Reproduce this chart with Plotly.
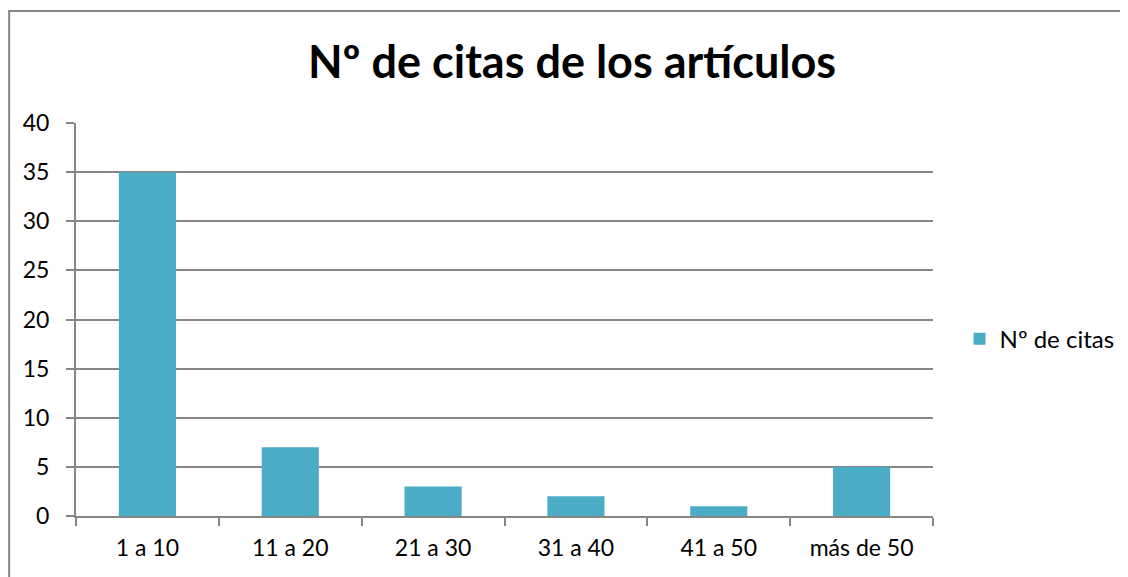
import plotly.graph_objects as go

categorias = ['1 a 10', '11 a 20', '21 a 30', '31 a 40', '41 a 50', 'más de 50']
num_citas = [35, 7, 3, 2, 1, 5]

BAR_COL = '#4BACC6'
GRID_COL = '#868686'
FONT = 'Lato'

fig = go.Figure()
fig.add_trace(go.Bar(x=categorias, y=num_citas, name='Nº de citas',
                     marker=dict(color=BAR_COL, line=dict(width=0))))

# page body has an 8px margin; the figure runs past the window on right/bottom
fig.update_layout(
    width=1128, height=577,
    margin=dict(l=68, r=203, t=115, b=69),
    paper_bgcolor='white', plot_bgcolor='white',
    font=dict(family=FONT, size=23, color='black'),
    title=dict(text='<b>Nº de citas de los artículos</b>', x=0.5, xanchor='center',
               y=0.906, yanchor='middle', font=dict(size=45, family=FONT)),
    bargap=0.6,
    showlegend=True,
    legend=dict(x=1.031, y=0.45, xanchor='left', yanchor='middle',
                font=dict(size=24), itemwidth=30),
)

fig.update_yaxes(range=[0, 40], dtick=5, showgrid=True, gridcolor=GRID_COL, gridwidth=2,
                 showline=True, linecolor=GRID_COL, linewidth=2,
                 ticks='outside', ticklen=8, tickcolor=GRID_COL, tickwidth=2,
                 ticklabelstandoff=12, zeroline=False, fixedrange=True)
fig.update_xaxes(showline=True, linecolor=GRID_COL, linewidth=2, mirror=False,
                 ticks='outside', tickson='boundaries', ticklen=8, tickcolor=GRID_COL, tickwidth=2,
                 ticklabelstandoff=10, showgrid=False)

# outer chart border (cut off at right and bottom like the original)
fig.add_shape(type='rect', xref='paper', yref='paper',
              x0=-0.078, x1=1.4, y0=-0.4, y1=1.285,
              line=dict(color=GRID_COL, width=2), layer='below')

fig.write_html("out.html")
